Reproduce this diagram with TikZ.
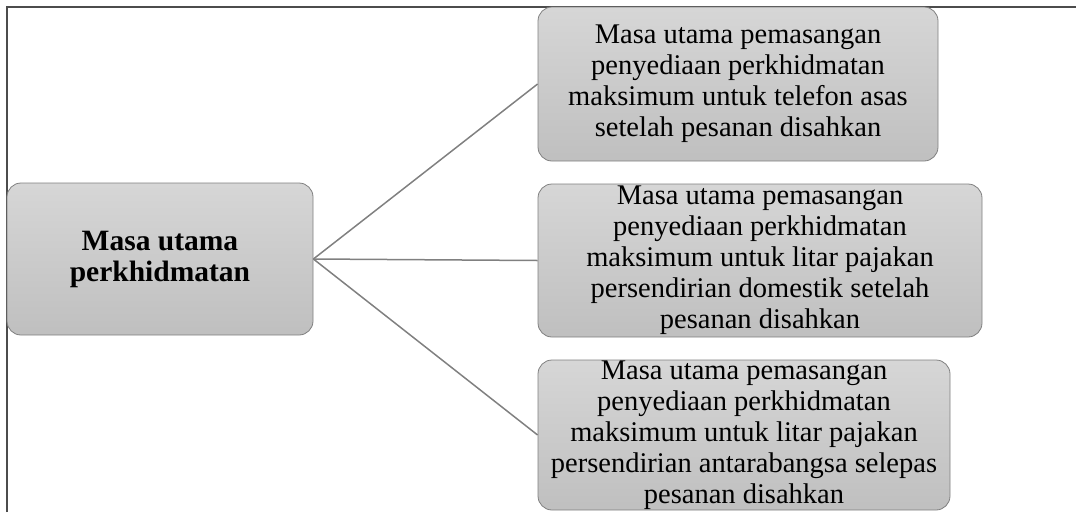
\documentclass[tikz,border=0pt]{standalone}
\usepackage{fontspec}
\setmainfont{Liberation Serif}
\begin{document}
\begin{tikzpicture}[x=1pt,y=-1pt,
  box/.style={draw=black!50, line width=0.8pt, rounded corners=14pt,
    top color=black!16, bottom color=black!25, inner sep=0pt,
    align=center, font=\fontsize{28.5}{31}\selectfont},
  link/.style={draw=black!50, line width=1.5pt}]
\useasboundingbox (0,0) rectangle (1076,512);
\draw[black!70, line width=1.5pt] (7,512) -- (7,7) -- (1076,7);
\node[box, minimum width=306pt, minimum height=152pt, font=\fontsize{29.5}{31}\selectfont\bfseries] (root) at (160,259) {Masa utama\\perkhidmatan};
\node[box, minimum width=400pt, minimum height=154pt] (a) at (738,84) {Masa utama pemasangan\\penyediaan perkhidmatan\\maksimum untuk telefon asas\\setelah pesanan disahkan};
\node[box, minimum width=444pt, minimum height=153pt] (b) at (760,260.5) {Masa utama pemasangan\\penyediaan perkhidmatan\\maksimum untuk litar pajakan\\persendirian domestik setelah\\pesanan disahkan};
\node[box, minimum width=412pt, minimum height=150pt] (c) at (744,435) {Masa utama pemasangan\\penyediaan perkhidmatan\\maksimum untuk litar pajakan\\persendirian antarabangsa selepas\\pesanan disahkan};
\draw[link] (root.east) -- (a.west);
\draw[link] (root.east) -- (b.west);
\draw[link] (root.east) -- (c.west);
\end{tikzpicture}
\end{document}
